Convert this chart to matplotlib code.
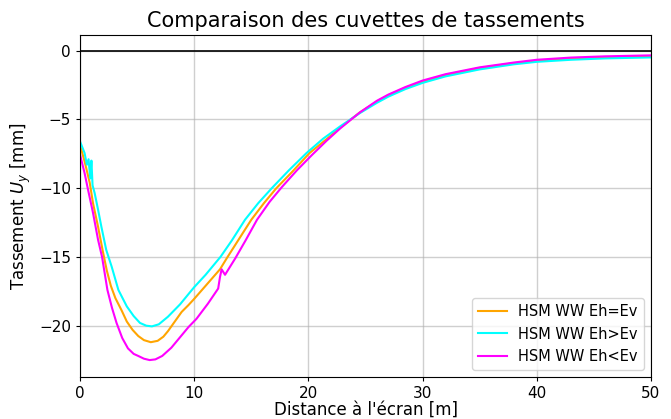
import numpy as np
import matplotlib
matplotlib.use("Agg")
import matplotlib.pyplot as plt

# distance (m) / settlement (mm)
x_eq = [0.0, 0.4, 0.85, 1.14, 1.58, 2.0, 2.35, 2.7, 3.1, 3.65, 4.1, 4.6, 5.1, 5.6,
        6.2, 6.8, 7.3, 7.7, 8.3, 8.9, 9.5, 10.0, 11.0, 12.26, 12.85, 14.0, 15.0,
        16.1, 17.2, 18.6, 20.1, 21.5, 22.8, 24.5, 26.0, 27.0, 28.5, 30.0, 32.0,
        35.0, 38.0, 40.0, 43.0, 46.0, 50.0]
y_eq = [-6.85, -8.05, -9.6, -11.1, -12.8, -14.6, -16.0, -17.1, -18.0, -18.9, -19.7,
        -20.3, -20.75, -21.05, -21.2, -21.1, -20.8, -20.4, -19.7, -19.0, -18.5,
        -18.05, -17.1, -15.9, -15.1, -13.6, -12.3, -11.1, -10.0, -8.8, -7.45,
        -6.5, -5.6, -4.5, -3.7, -3.25, -2.7, -2.25, -1.78, -1.27, -0.92, -0.74,
        -0.59, -0.5, -0.42]

x_gt = [0.0, 0.4, 0.6, 0.75, 0.9, 1.0, 1.1, 1.28, 1.58, 1.87, 2.3, 2.77, 3.36, 4.1,
        4.7, 5.25, 5.8, 6.3, 6.9, 7.7, 8.76, 9.6, 10.0, 11.0, 12.3, 13.3, 14.45,
        15.6, 16.8, 18.3, 19.85, 21.3, 22.8, 24.5, 26.0, 27.0, 28.5, 30.0, 32.0,
        35.0, 38.0, 40.0, 43.0, 46.0, 50.0]
y_gt = [-6.6, -7.45, -8.3, -7.9, -9.3, -8.0, -9.8, -10.35, -11.56, -12.8, -14.5,
        -15.7, -17.4, -18.6, -19.3, -19.8, -20.0, -20.05, -19.9, -19.35, -18.45,
        -17.6, -17.2, -16.3, -15.0, -13.8, -12.3, -11.1, -10.0, -8.7, -7.44,
        -6.4, -5.5, -4.55, -3.8, -3.35, -2.8, -2.35, -1.88, -1.37, -1.0, -0.82,
        -0.67, -0.57, -0.5]

x_lt = [0.0, 0.4, 0.7, 1.14, 1.58, 1.93, 2.4, 2.8, 3.2, 3.7, 4.2, 4.7, 5.1, 5.6,
        6.1, 6.6, 7.2, 8.0, 8.8, 9.5, 10.2, 11.2, 12.1, 12.25, 12.4, 12.7, 13.6,
        14.5, 15.5, 16.6, 17.4, 17.7, 19.0, 20.3, 21.6, 22.8, 24.5, 26.0, 27.0,
        28.5, 30.0, 32.0, 35.0, 38.0, 40.0, 43.0, 46.0, 50.0]
y_lt = [-7.56, -8.9, -10.1, -11.8, -13.75, -15.0, -17.4, -18.7, -19.8, -20.9,
        -21.65, -22.05, -22.2, -22.4, -22.5, -22.45, -22.2, -21.6, -20.8, -20.1,
        -19.5, -18.4, -17.3, -16.5, -15.9, -16.3, -15.1, -13.8, -12.3, -11.0,
        -10.2, -9.9, -8.7, -7.6, -6.55, -5.65, -4.5, -3.65, -3.2, -2.65, -2.18,
        -1.72, -1.22, -0.87, -0.67, -0.51, -0.42, -0.35]

labels = ["HSM WW Eh=Ev", "HSM WW Eh>Ev", "HSM WW Eh<Ev"]

fig = plt.figure(figsize=(6.71, 4.19), dpi=100)
ax = fig.add_subplot(111)
fig.subplots_adjust(left=80/671, right=651/671, top=1-35/419, bottom=1-377/419)

ax.axhline(0, color="k", lw=1.2)
ax.plot(x_eq, y_eq, color="orange", lw=1.5, label=labels[0])
ax.plot(x_gt, y_gt, color="cyan", lw=1.5, label=labels[1])
ax.plot(x_lt, y_lt, color="magenta", lw=1.5, label=labels[2])

ax.set_xlim(0, 50)
ax.set_ylim(-23.73, 1.13)
ax.grid(True, color="#b0b0b0", alpha=0.6, lw=1)
ax.set_title("Comparaison des cuvettes de tassements", fontsize=15)
ax.set_xlabel("Distance à l'écran [m]", fontsize=12, labelpad=0)
ax.set_ylabel("Tassement $U_y$ [mm]", fontsize=12)
ax.tick_params(labelsize=11, length=3)
ax.legend(loc="lower right", fontsize=10.5)

fig.savefig("out.png", dpi=100)
